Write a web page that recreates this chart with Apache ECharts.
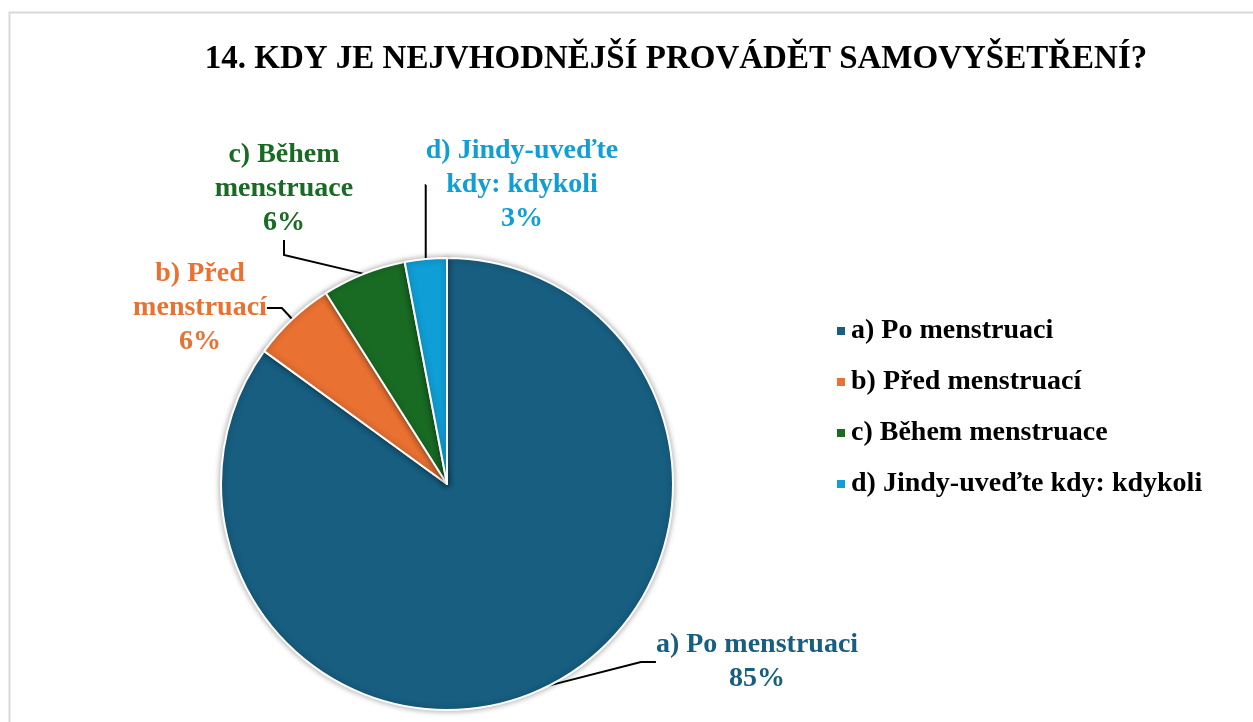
<!DOCTYPE html>
<html>
<head>
<meta charset="utf-8">
<script src="https://cdn.jsdelivr.net/npm/echarts@6/dist/echarts.min.js"></script>
<style>
  html, body { margin: 0; padding: 0; background: #fff; }
  #chart { width: 1253px; height: 722px; }
</style>
</head>
<body>
<div id="chart"></div>
<script>
const categories = ['a) Po menstruaci', 'b) Před menstruací', 'c) Během menstruace', 'd) Jindy-uveďte kdy: kdykoli'];
const values = [85, 6, 6, 3];
// how each slice label is broken into lines
const labelText = [
  'a) Po menstruaci',
  'b) Před\nmenstruací',
  'c) Během\nmenstruace',
  'd) Jindy-uveďte\nkdy: kdykoli'
];
const colors = ['#175e80', '#e97132', '#196b24', '#0f9ed5'];

// where the labels sit (centre of the text block)
const labelPos = [[757, 662], [200, 308], [284, 189], [522, 185]];

let chartDom = document.getElementById('chart');
let myChart = echarts.init(chartDom);
let option;

option = {
  color: colors,
  title: {
    text: '14. KDY JE NEJVHODNĚJŠÍ PROVÁDĚT SAMOVYŠETŘENÍ?',
    left: 671,
    top: 38,
    textAlign: 'center',
    textStyle: {
      fontFamily: 'Liberation Serif',
      fontWeight: 'bold',
      fontSize: 33,
      color: '#000'
    }
  },
  legend: {
    orient: 'vertical',
    left: 830,
    top: 312,
    icon: 'rect',
    itemWidth: 10,
    itemHeight: 10,
    itemGap: 23,
    textStyle: {
      fontFamily: 'Liberation Serif',
      fontWeight: 'bold',
      fontSize: 28,
      color: '#000'
    },
    data: categories
  },
  graphic: [
    {
      type: 'rect',
      shape: { x: 9.5, y: 12.5, width: 1270, height: 730 },
      style: { fill: 'none', stroke: '#d9d9d9', lineWidth: 2 },
      silent: true
    }
  ],
  series: [
    {
      type: 'pie',
      center: [447, 484],
      radius: 226,
      startAngle: 90,
      clockwise: true,
      itemStyle: {
        borderColor: '#fff',
        borderWidth: 2,
        shadowBlur: 6,
        shadowColor: 'rgba(0,0,0,0.35)'
      },
      label: {
        show: true,
        position: 'outside',
        fontFamily: 'Liberation Serif',
        fontWeight: 'bold',
        fontSize: 28,
        lineHeight: 34,
        color: 'inherit',
        formatter: function (p) {
          return labelText[p.dataIndex] + '\n' + Math.round(p.percent) + '%';
        }
      },
      labelLine: {
        show: true,
        length: 20,
        length2: 15,
        lineStyle: { color: '#000', width: 2 }
      },
      labelLayout: function (p) {
        const pos = labelPos[p.dataIndex];
        return { x: pos[0], y: pos[1], align: 'center', verticalAlign: 'middle' };
      },
      emphasis: { disabled: true },
      animation: false,
      data: categories.map(function (name, i) {
        return { name: name, value: values[i] };
      })
    }
  ]
};

option && myChart.setOption(option);
</script>
</body>
</html>
